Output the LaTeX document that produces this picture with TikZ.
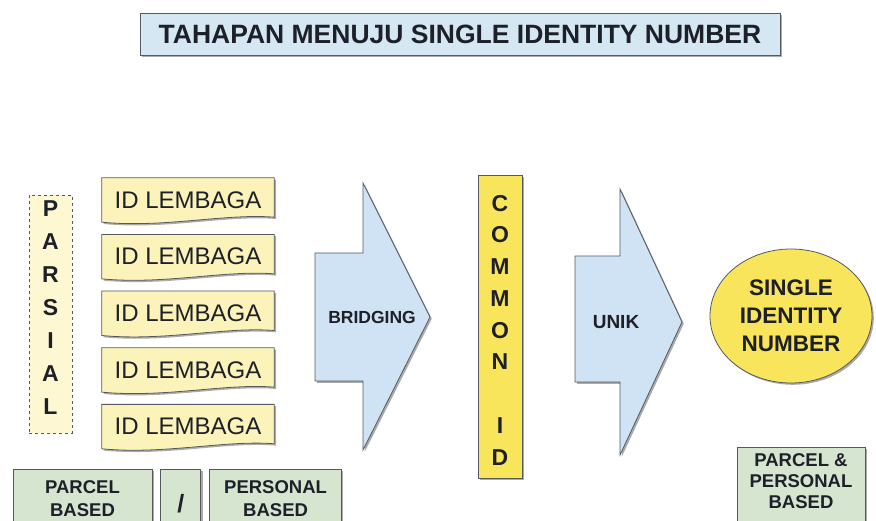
\documentclass[tikz,border=0pt]{standalone}
\usepackage{fontspec}
\setmainfont{Liberation Sans}
\usetikzlibrary{positioning,shadows,backgrounds,shapes.geometric}

\definecolor{titleblue}{HTML}{D6E7F4}
\definecolor{arrowblue}{HTML}{CFE3F4}
\definecolor{idyellow}{HTML}{FBF3BA}
\definecolor{paleyellow}{HTML}{FDF8D2}
\definecolor{baryellow}{HTML}{F8E55C}
\definecolor{basegreen}{HTML}{D5E5D0}
\definecolor{inkdark}{HTML}{1E2029}
\definecolor{edgegray}{HTML}{55595F}

% wavy outline behind an ID LEMBAGA node
\newcommand{\idbox}[1]{%
  \draw [idshape] (#1.north west) -- (#1.north east) -- ([yshift=5pt]#1.south east)
    .. controls ([xshift=-49pt,yshift=9pt]#1.south east) and ([xshift=63pt,yshift=-6pt]#1.south west) .. (#1.south west) -- cycle;}

\begin{document}
\begin{tikzpicture}[x=1pt, y=-1pt,
	boxshadow/.style={drop shadow={shadow xshift=1.8pt, shadow yshift=-1.8pt, fill=black!60, opacity=.55}},
	titlebox/.style={rectangle, draw=edgegray, line width=0.8pt, fill=titleblue, minimum width=640pt, minimum height=42pt, inner sep=0pt, font=\bfseries\fontsize{26.5}{30}\selectfont, text=inkdark, boxshadow},
	lembaga/.style={rectangle, inner sep=0pt, minimum width=172pt, minimum height=44pt, font=\fontsize{24}{28}\selectfont, text=inkdark},
	idshape/.style={draw=edgegray, line width=0.8pt, fill=idyellow, boxshadow},
	parsialbox/.style={rectangle, draw=edgegray, line width=0.8pt, dashed, fill=paleyellow, minimum width=43pt, minimum height=238pt, inner sep=0pt, align=center, font=\bfseries\fontsize{23}{33}\selectfont, text=inkdark},
	commonbox/.style={rectangle, draw=edgegray, line width=0.8pt, fill=baryellow, minimum width=44pt, minimum height=303pt, inner sep=0pt, align=center, font=\bfseries\fontsize{23}{31.75}\selectfont, text=inkdark, boxshadow},
	arrowshape/.style={draw=edgegray, line width=0.8pt, fill=arrowblue, boxshadow},
	arrowlabel/.style={inner sep=0pt, font=\bfseries\fontsize{17.5}{20}\selectfont, text=inkdark},
	sinbox/.style={ellipse, draw=edgegray, line width=0.8pt, fill=baryellow, minimum width=162pt, minimum height=134pt, inner sep=0pt, align=center, font=\bfseries\fontsize{22.5}{28}\selectfont, text=inkdark, boxshadow},
	basebox/.style={rectangle, draw=edgegray, line width=0.8pt, fill=basegreen, minimum height=76pt, inner sep=0pt, align=center, font=\bfseries\fontsize{18.5}{23}\selectfont, text=inkdark, boxshadow}
	]

	\useasboundingbox (0,0) rectangle (876,521);
	\clip (0,0) rectangle (876,521);

	\node (titlebar) [titlebox] at (460,34) {TAHAPAN MENUJU SINGLE IDENTITY NUMBER};

	\node (parsial) [parsialbox] at (50.5,314) {P\\A\\R\\S\\I\\A\\L\rule[-12pt]{0pt}{12pt}};

	\node (lem1) [lembaga] at (188,200) {ID LEMBAGA};
	\node (lem2) [lembaga, below=12.25pt of lem1] {ID LEMBAGA};
	\node (lem3) [lembaga, below=12.25pt of lem2] {ID LEMBAGA};
	\node (lem4) [lembaga, below=12.25pt of lem3] {ID LEMBAGA};
	\node (lem5) [lembaga, below=12.25pt of lem4] {ID LEMBAGA};

	\begin{scope}[on background layer]
		\idbox{lem1}
		\idbox{lem2}
		\idbox{lem3}
		\idbox{lem4}
		\idbox{lem5}
	\end{scope}

	\draw [arrowshape] (315,253) -- (363,253) -- (363,183) -- (430,317) -- (363,450) -- (363,381) -- (315,381) -- cycle;
	\node (bridging) [arrowlabel] at (372,317) {BRIDGING};

	\node (commonid) [commonbox] at (500,326.5) {\rule{0pt}{23pt}C\\O\\M\\M\\O\\N\\[31.75pt]I\\D};

	\draw [arrowshape] (575,256) -- (620,256) -- (620,189) -- (682,322) -- (620,455) -- (620,382) -- (575,382) -- cycle;
	\node (unik) [arrowlabel, font=\bfseries\fontsize{19}{22}\selectfont] at (616,322) {UNIK};

	\node (sin) [sinbox] at (791,316) {SINGLE\\IDENTITY\\NUMBER};

	\node (parcel) [basebox, minimum width=139pt] at (82.5,507) {PARCEL\\BASED\rule[-17pt]{0pt}{17pt}};
	\node (slashbox) [basebox, minimum width=40pt, right=8pt of parcel, font=\bfseries\fontsize{25}{28}\selectfont] {/\rule[-8pt]{0pt}{8pt}};
	\node (personal) [basebox, minimum width=132pt, right=8pt of slashbox] {PERSONAL\\BASED\rule[-17pt]{0pt}{17pt}};

	\node (parcelpersonal) [basebox, minimum width=128pt, minimum height=83pt, font=\bfseries\fontsize{18.5}{21}\selectfont] at (801,488.5) {PARCEL \&\\PERSONAL\\BASED\rule[-14pt]{0pt}{14pt}};

\end{tikzpicture}
\end{document}
